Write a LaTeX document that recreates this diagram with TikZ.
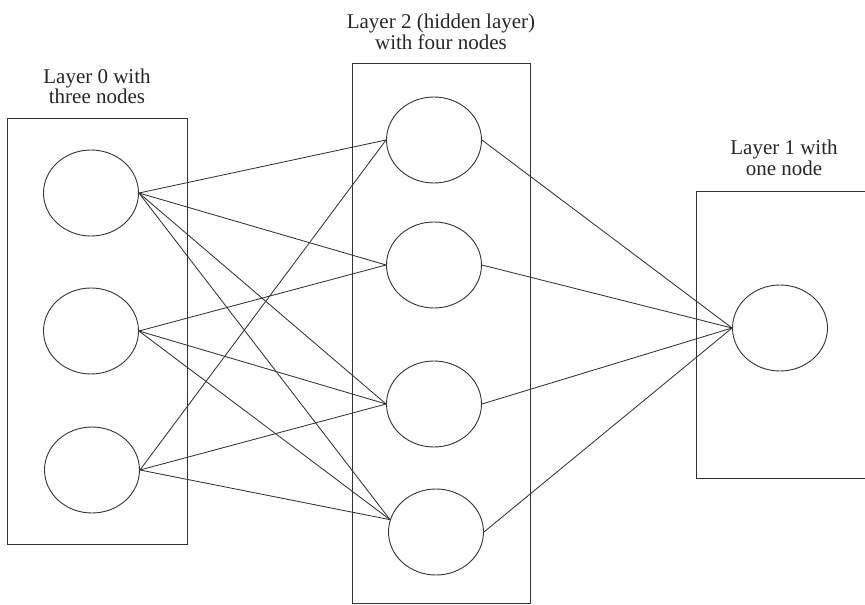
\documentclass[tikz,border=0pt]{standalone}
\usepackage{fontspec}
\setmainfont{Liberation Serif}
\usetikzlibrary{shapes.geometric}
\begin{document}
\begin{tikzpicture}[x=1pt,y=-1pt,
  neuron/.style={draw=black!80, line width=0.9pt, ellipse, minimum width=95pt, minimum height=86pt, inner sep=0pt},
  layerbox/.style={draw=black!80, line width=0.9pt},
  link/.style={draw=black!80, line width=0.85pt},
  lbl/.style={font=\fontsize{21}{20.5}\selectfont, align=center, inner sep=0pt, anchor=north, text=black!85}]
\useasboundingbox (0,0) rectangle (865,605);
% layer boxes
\draw[layerbox] (7,118) rectangle (187,544);
\draw[layerbox] (352,63) rectangle (530,603);
\draw[layerbox] (696,191) rectangle (875,478);
% labels
\node[lbl] (t0) at (97,68.5) {Layer 0 with\\three nodes};
\node[lbl] (t2) at (441,14) {Layer 2 (hidden layer)\\with four nodes};
\node[lbl] (t1) at (784,140) {Layer 1 with\\one node};
% neurons
\node[neuron] (a1) at (91,193) {};
\node[neuron] (a2) at (91,331) {};
\node[neuron] (a3) at (92,470) {};
\node[neuron] (h1) at (434,140) {};
\node[neuron] (h2) at (434,265) {};
\node[neuron] (h3) at (434,404) {};
\node[neuron] (h4) at (436,532) {};
\node[neuron] (o1) at (780,328) {};
\coordinate (h4in) at (h4.165);
% connections
\foreach \h in {h1.west,h2.west,h3.west,h4in}{
  \draw[link] (a1.east) -- (\h);
}
\foreach \h in {h2.west,h3.west,h4in}{
  \draw[link] (a2.east) -- (\h);
}
\foreach \h in {h1.west,h3.west,h4in}{
  \draw[link] (a3.east) -- (\h);
}
\foreach \h in {h1,h2,h3,h4}{
  \draw[link] (\h.east) -- (o1.west);
}
\end{tikzpicture}
\end{document}
